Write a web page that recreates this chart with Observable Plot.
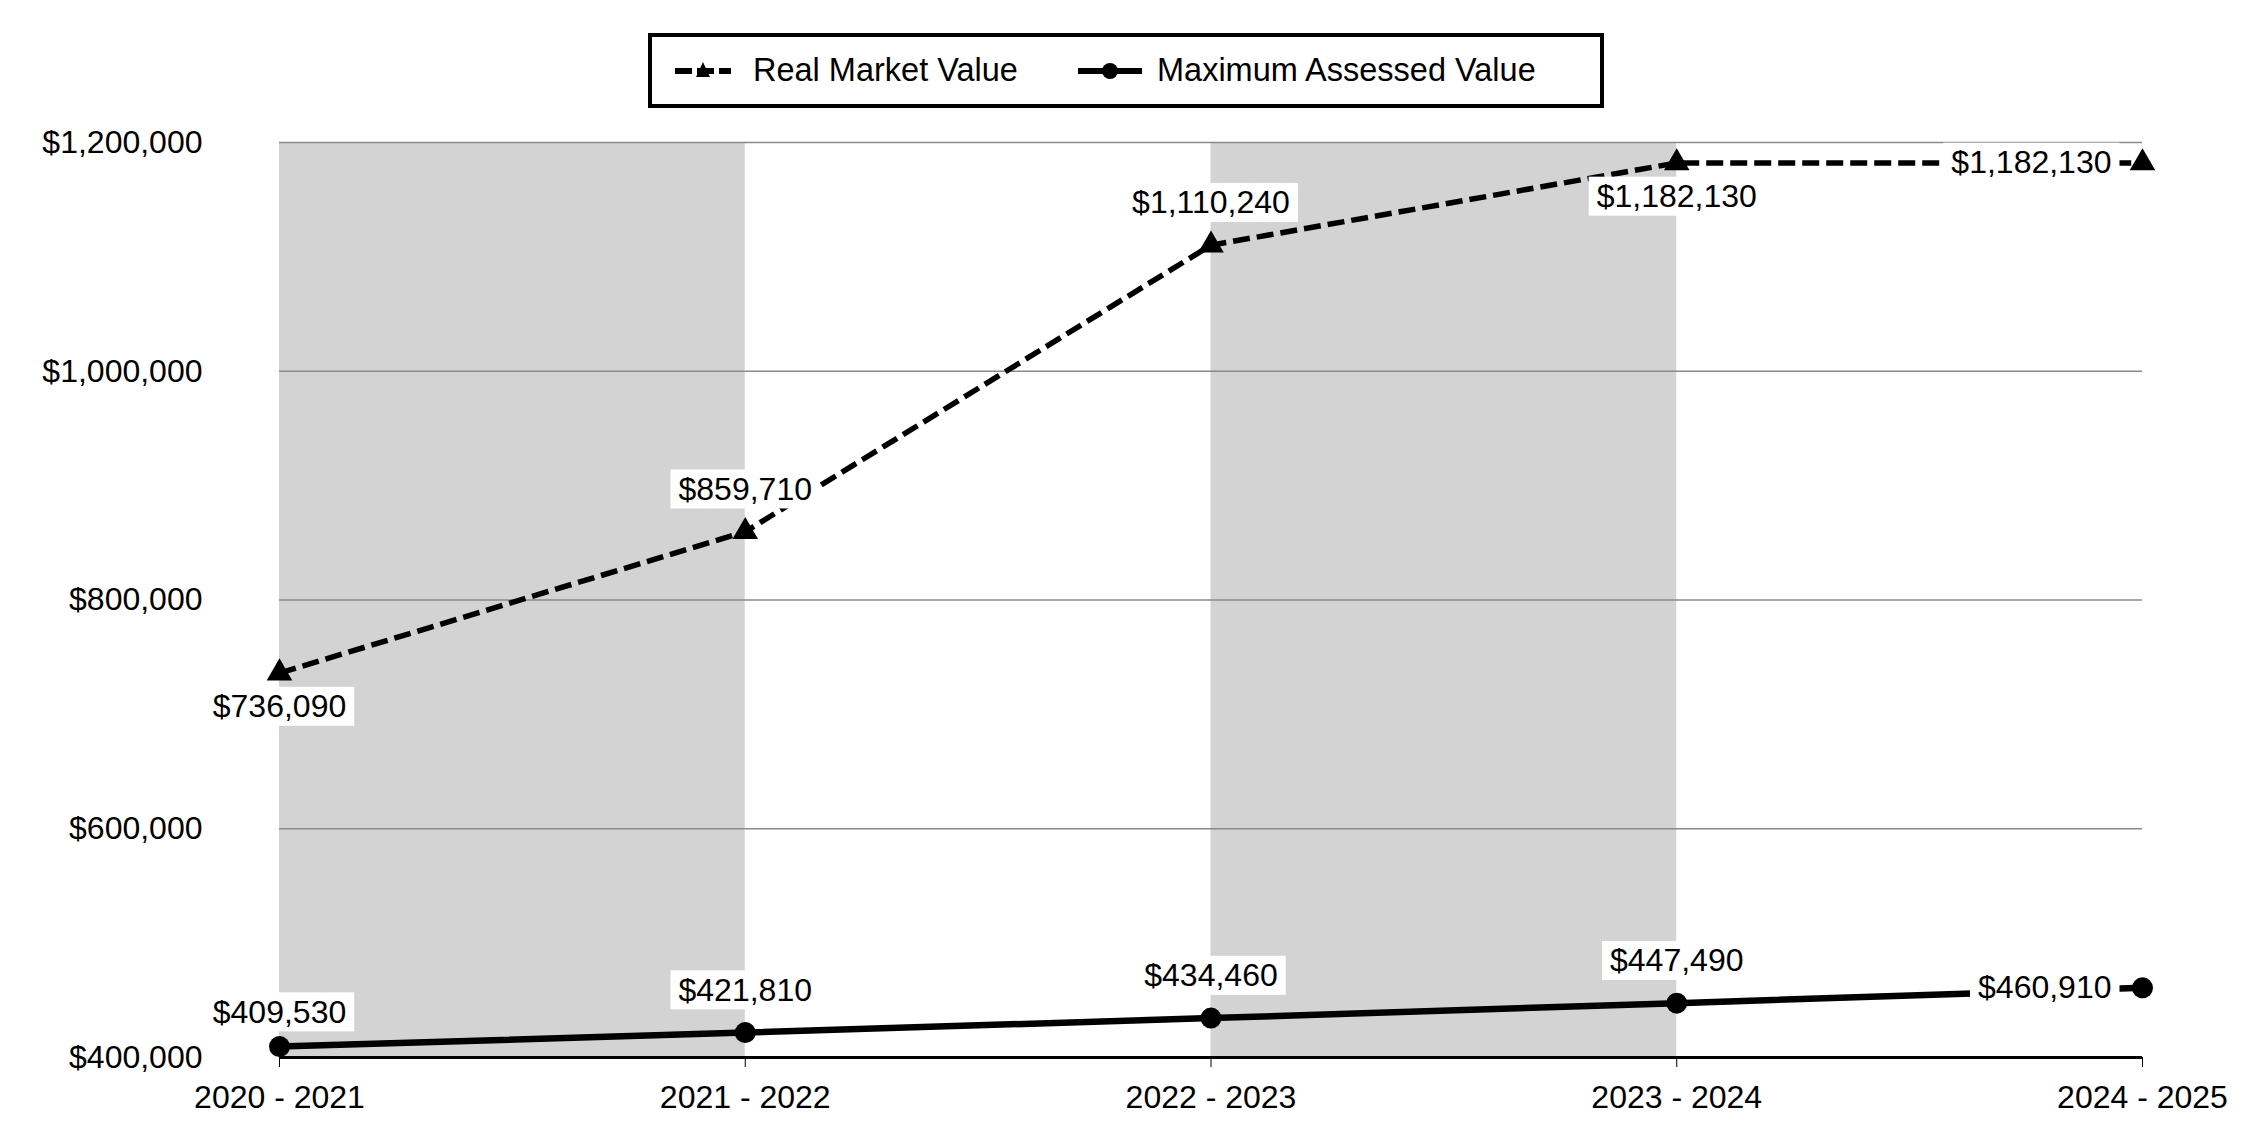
<!DOCTYPE html>
<html>
<head>
<meta charset="utf-8">
<script src="https://cdn.jsdelivr.net/npm/d3@7"></script>
<script src="https://cdn.jsdelivr.net/npm/@observablehq/plot@0.6"></script>
<style>
  html, body { margin: 0; padding: 0; background: #fff; }
  body { width: 2250px; height: 1140px; overflow: hidden; font-family: "Liberation Sans", Arial, sans-serif; color: #000; }
  #header { position: relative; height: 120px; }
  #legend { position: absolute; left: 648px; top: 33px; width: 948px; height: 67px; border: 4px solid #000; font-size: 32.5px; }
  #legend .sw { position: absolute; top: 22px; }
  #legend .lbl { position: absolute; top: 0; line-height: 67px; white-space: nowrap; }
  #chart svg { display: block; }
</style>
</head>
<body>
<div id="header">
  <div id="legend">
    <svg class="sw" style="left:23px" width="56" height="24" viewBox="0 0 56 24">
      <line x1="0" y1="12" x2="56" y2="12" stroke="#000" stroke-width="6" stroke-dasharray="17,5"/>
      <path d="M28,3 L35,18 L21,18 Z" fill="#000"/>
    </svg>
    <span class="lbl" style="left:101px" id="lg0"></span>
    <svg class="sw" style="left:426px" width="64" height="24" viewBox="0 0 64 24">
      <line x1="0" y1="12" x2="64" y2="12" stroke="#000" stroke-width="6"/>
      <circle cx="32" cy="12" r="8" fill="#000"/>
    </svg>
    <span class="lbl" style="left:505px" id="lg1"></span>
  </div>
</div>
<div id="chart"></div>
<script>
// ---- data ----
const categories = ["2020 - 2021", "2021 - 2022", "2022 - 2023", "2023 - 2024", "2024 - 2025"];
const realMarketValue = [736090, 859710, 1110240, 1182130, 1182130];
const maxAssessedValue = [409530, 421810, 434460, 447490, 460910];
const yTicks = [400000, 600000, 800000, 1000000, 1200000];
const shadedPeriods = ["2020 - 2021", "2022 - 2023"];
const seriesNames = ["Real Market Value", "Maximum Assessed Value"];

document.getElementById("lg0").textContent = seriesNames[0];
document.getElementById("lg1").textContent = seriesNames[1];

const rows = categories.map((c, i) => ({i, c, rmv: realMarketValue[i], mav: maxAssessedValue[i]}));
const fmt = d3.format("$,");
const last = categories.length - 1;
const yMin = yTicks[0], yMax = yTicks[yTicks.length - 1];
const font = "'Liberation Sans', Arial, sans-serif";
const lbl = {fontSize: 32, fill: "#000", fontFamily: font};

const plot = Plot.plot({
  width: 2250,
  height: 1020,
  marginTop: 22,
  marginBottom: 83,
  marginLeft: 279,
  marginRight: 108,
  style: {fontFamily: font, fontSize: "32px", color: "#000", background: "#fff"},
  x: {type: "linear", domain: [0, last], ticks: categories.map((_, i) => i), tickFormat: i => categories[i], tickSize: 10, tickPadding: 18, label: null},
  y: {domain: [yMin, yMax], ticks: yTicks, tickFormat: fmt, tickSize: 0, tickPadding: 77, label: null},
  marks: [
    Plot.rect(shadedPeriods, {x1: d => categories.indexOf(d), x2: d => categories.indexOf(d) + 1, y1: () => yMin, y2: () => yMax, fill: "#d3d3d3"}),
    Plot.ruleY(yTicks.slice(1), {stroke: "#8a8a8a", strokeWidth: 1.5}),
    Plot.ruleY([yMin], {stroke: "#000", strokeWidth: 3}),
    Plot.line(rows, {x: "i", y: "rmv", stroke: "#000", strokeWidth: 5.5, strokeDasharray: "17,7", strokeLinecap: "butt", strokeLinejoin: "miter"}),
    Plot.line(rows, {x: "i", y: "mav", stroke: "#000", strokeWidth: 6.5}),
    Plot.dot(rows, {x: "i", y: "rmv", symbol: "triangle", r: 9.5, fill: "#000", stroke: null}),
    Plot.dot(rows, {x: "i", y: "mav", symbol: "circle", r: 10.5, fill: "#000", stroke: null}),
    // data labels
    Plot.text(rows.filter(d => d.i === 1 || d.i === 2), {x: "i", y: "rmv", text: d => fmt(d.rmv), dy: -42, ...lbl}),
    Plot.text(rows.filter(d => d.i === 0 || d.i === 3), {x: "i", y: "rmv", text: d => fmt(d.rmv), dy: 34, ...lbl}),
    Plot.text(rows.filter(d => d.i === last), {x: "i", y: "rmv", text: d => fmt(d.rmv), dx: -31, textAnchor: "end", ...lbl}),
    Plot.text(rows.filter(d => d.i === 0), {x: "i", y: "mav", text: d => fmt(d.mav), dy: -34, ...lbl}),
    Plot.text(rows.filter(d => d.i > 0 && d.i < last), {x: "i", y: "mav", text: d => fmt(d.mav), dy: -42, ...lbl}),
    Plot.text(rows.filter(d => d.i === last), {x: "i", y: "mav", text: d => fmt(d.mav), dx: -31, textAnchor: "end", ...lbl})
  ]
});

document.getElementById("chart").append(plot);

// white boxes behind data labels
plot.querySelectorAll('g[aria-label="text"] text').forEach(t => {
  const bb = t.getBBox();
  const r = document.createElementNS("http://www.w3.org/2000/svg", "rect");
  r.setAttribute("x", bb.x - 8);
  r.setAttribute("y", bb.y - 1.5);
  r.setAttribute("width", bb.width + 16);
  r.setAttribute("height", bb.height + 3);
  r.setAttribute("fill", "#fff");
  r.setAttribute("stroke", "none");
  const tr = t.getAttribute("transform");
  if (tr) r.setAttribute("transform", tr);
  t.parentNode.insertBefore(r, t);
});
</script>
</body>
</html>
